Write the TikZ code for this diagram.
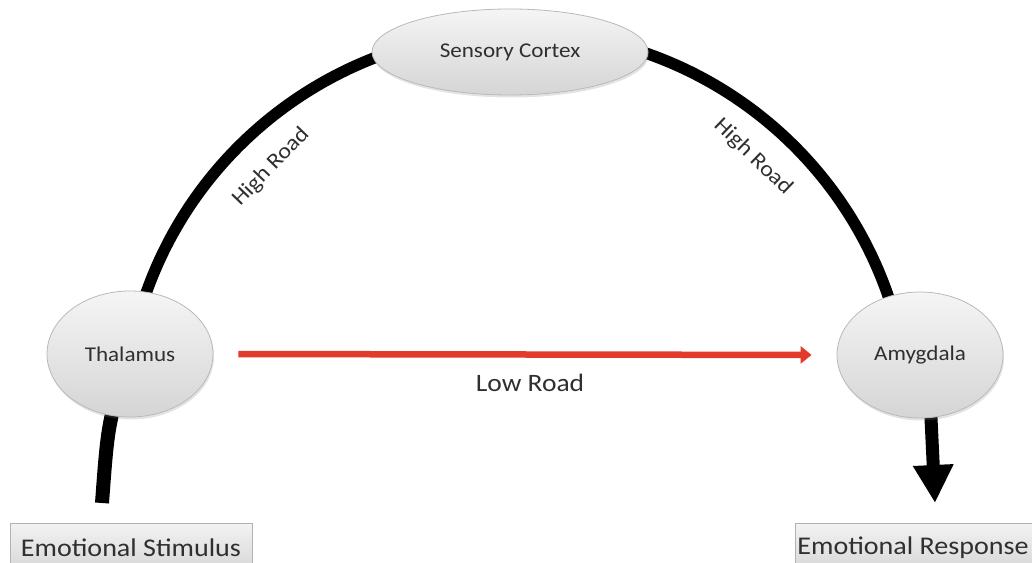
\documentclass[tikz,border=0pt]{standalone}
\usepackage{fontspec}
\setmainfont{Carlito}[FakeStretch=1.1]
\usetikzlibrary{shapes.geometric,arrows.meta,backgrounds,shadows}
\definecolor{inkgray}{HTML}{2F2F2F}
\definecolor{lowred}{HTML}{E23A2B}
\begin{document}
\begin{tikzpicture}[x=1pt,y=1pt,
  region/.style={ellipse, draw=gray!55, line width=0.8pt,
    top color=gray!8, bottom color=gray!33, text=inkgray, inner sep=0pt,
    font=\fontsize{21}{24}\selectfont,
    drop shadow={opacity=0.22, shadow xshift=1pt, shadow yshift=-2.5pt}},
  endbox/.style={rectangle, draw=gray!60, line width=0.8pt,
    top color=gray!10, bottom color=gray!32, text=inkgray, inner sep=0pt,
    minimum height=50pt, font=\fontsize{25.5}{28}\selectfont},
  road/.style={line width=11.5pt, black},
  roadlabel/.style={text=inkgray, font=\fontsize{22}{24}\selectfont, inner sep=0pt},
  lowroad/.style={draw=lowred, line width=6.5pt,
    -{Triangle[width=17pt,length=11pt]}},
  outflow/.style={line width=13pt, black, -{Triangle[width=38pt,length=38pt]}},
]
\useasboundingbox (0,0) rectangle (1032,562);
\clip (0,0) rectangle (1032,562);

% brain regions
\node[region, minimum width=276pt, minimum height=86pt] (cortex) at (510,510) {Sensory Cortex};
\node[region, minimum width=166pt, minimum height=126pt] (thal) at (130,208) {Thalamus};
\node[region, minimum width=166pt, minimum height=126pt] (amyg) at (920,207) {Amygdala};

% input and output boxes (the response box runs past the right edge)
\node[endbox, minimum width=242pt] (stim) at (131,14) {Emotional Stimulus};
\node[endbox, minimum width=262pt] (resp) at (926,14) {Emotional Response\hspace*{26pt}};

% free ends of the thick pathways
\coordinate (stimend) at (102,59);
\coordinate (respend) at (935,59);

\begin{scope}[on background layer]
  % high road: thalamus -> sensory cortex -> amygdala
  \draw[road] (thal.center) arc[start angle=169.7, end angle=10, radius=393];
  % stimulus entering the thalamus
  \draw[line width=14pt, black] (thal.center) .. controls (108,140) .. (stimend);
  % response leaving the amygdala
  \draw[outflow] ([xshift=8pt]amyg.center) -- (respend);
\end{scope}

% low road
\draw[lowroad, shorten <=25pt, shorten >=25pt] (thal.east) -- (amyg.west);
\node[roadlabel, font=\fontsize{25}{28}\selectfont] (lowlbl) at (530,179) {Low Road};

% high road labels
\node[roadlabel, rotate=46] (hileft) at (271,395) {High Road};
\node[roadlabel, rotate=-44] (hiright) at (753,405) {High Road};
\end{tikzpicture}
\end{document}
